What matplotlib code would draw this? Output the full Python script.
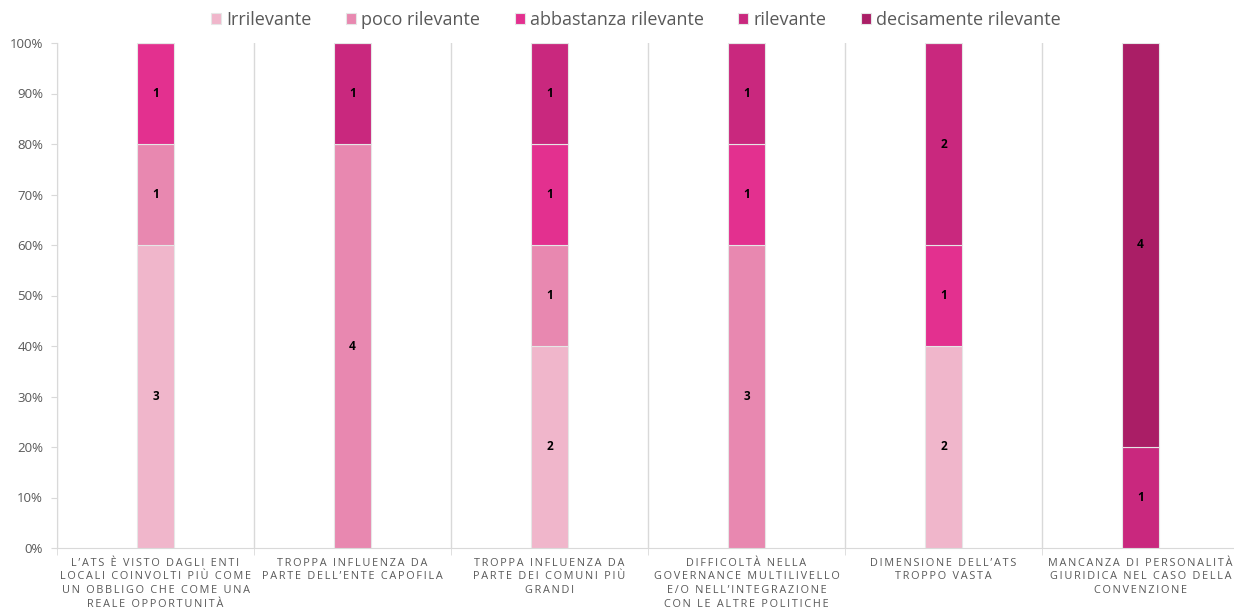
import numpy as np
import matplotlib.pyplot as plt

plt.rcParams['font.family'] = ['Open Sans', 'DejaVu Sans']

# counts per answer, one value per category
categories = [
    "L’ATS È VISTO DAGLI ENTI\nLOCALI COINVOLTI PIÙ COME\nUN OBBLIGO CHE COME UNA\nREALE OPPORTUNITÀ",
    "TROPPA INFLUENZA DA\nPARTE DELL’ENTE CAPOFILA",
    "TROPPA INFLUENZA DA\nPARTE DEI COMUNI PIÙ\nGRANDI",
    "DIFFICOLTÀ NELLA\nGOVERNANCE MULTILIVELLO\nE/O NELL’INTEGRAZIONE\nCON LE ALTRE POLITICHE",
    "DIMENSIONE DELL’ATS\nTROPPO VASTA",
    "MANCANZA DI PERSONALITÀ\nGIURIDICA NEL CASO DELLA\nCONVENZIONE",
]
series_names = ['Irrilevante', 'poco rilevante', 'abbastanza rilevante',
                'rilevante', 'decisamente rilevante']
irrilevante = [3, 0, 2, 0, 2, 0]
poco = [1, 4, 1, 3, 0, 0]
abbastanza = [1, 0, 1, 1, 1, 0]
rilevante = [0, 1, 1, 1, 2, 1]
decisamente = [0, 0, 0, 0, 0, 4]
colors = ['#F0B6CB', '#E888B0', '#E3308F', '#C9287E', '#AA1E66']

series = np.array([irrilevante, poco, abbastanza, rilevante, decisamente], dtype=float)
totals = series.sum(axis=0)
pct = series / totals * 100


def spaced(s):
    # imitate the letter spacing of the original labels
    return '\n'.join('\u2009'.join(line) for line in s.split('\n'))


fig = plt.figure(figsize=(12.34, 6.11), dpi=100)
ax = fig.add_axes([57 / 1234, 1 - 548 / 611, 1182 / 1234, 505 / 611])

x = np.arange(len(categories))
bottom = np.zeros(len(categories))
for name, vals, counts, col in zip(series_names, pct, series, colors):
    ax.bar(x, vals, width=0.183, bottom=bottom, color=col, label=name,
           edgecolor='#E6E6E6', linewidth=0.8, zorder=3)
    for xi, v, c, b in zip(x, vals, counts, bottom):
        if c > 0:
            ax.text(xi, b + v / 2, f'{int(c)}', ha='center', va='center',
                    fontsize=8.5, fontweight='bold', color='black', zorder=4)
    bottom += vals

ax.set_xlim(-0.5, len(categories) - 0.5)
ax.set_ylim(0, 100)
ax.set_yticks(np.arange(0, 101, 10))
ax.set_yticklabels([f'{v}%' for v in range(0, 101, 10)], fontsize=9.5, color='#595959')
ax.set_xticks(x)
ax.set_xticklabels([spaced(c) for c in categories], fontsize=7.8, color='#595959',
                   linespacing=1.33)
ax.set_xticks(np.arange(-0.5, len(categories), 1), minor=True)
ax.tick_params(axis='x', which='major', length=0, pad=7)
ax.tick_params(axis='x', which='minor', length=5, color='#D9D9D9')
ax.tick_params(axis='y', length=4, color='#D9D9D9', pad=6)
ax.grid(axis='x', which='minor', color='#D9D9D9', linewidth=1, zorder=0)

for side in ['top', 'right']:
    ax.spines[side].set_visible(False)
for side in ['left', 'bottom']:
    ax.spines[side].set_color('#D9D9D9')

ax.legend(loc='lower center', bbox_to_anchor=(0.5 - 12 / 1182, 1.0), ncol=5,
          frameon=False, fontsize=13, handlelength=0.55, handleheight=0.55,
          handletextpad=0.3, columnspacing=1.9, labelcolor='#595959',
          borderaxespad=0.4)

fig.savefig('out.png', dpi=100)
